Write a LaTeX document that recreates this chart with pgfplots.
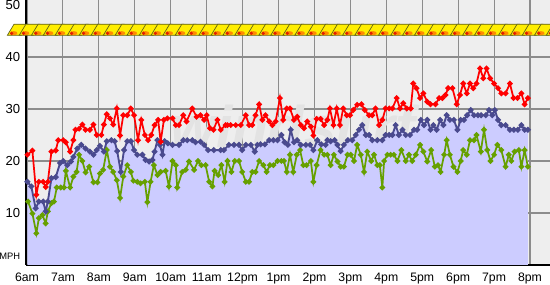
\documentclass[border=0pt]{standalone}
\usepackage{pgfplots}
\pgfplotsset{compat=1.18}
\usepackage{pgfplotstable}
\usepackage{fontspec}
\setmainfont{Liberation Sans}
\definecolor{bggray}{HTML}{EEEEEE}
\definecolor{gridgray}{HTML}{8C8C8C}
\definecolor{lav}{HTML}{CCCCFF}
\definecolor{blueline}{HTML}{4A4A8E}
\definecolor{redline}{HTML}{FF0000}
\definecolor{greenline}{HTML}{66A000}
\definecolor{ropeyellow}{HTML}{FFEE00}
\definecolor{ropeedge}{HTML}{5E5E18}
\definecolor{ropeorange}{HTML}{FF8A00}
\definecolor{ropered}{HTML}{E02000}
\pgfdeclareplotmark{rope}{%
  \pgfsetlinewidth{0.5pt}%
  \pgfsetstrokecolor{ropeedge}%
  \pgfsetfillcolor{ropeyellow}%
  \pgfpathmoveto{\pgfpoint{-8.0pt}{-4.0pt}}%
  \pgfpathlineto{\pgfpoint{2.5pt}{-4.0pt}}%
  \pgfpathlineto{\pgfpoint{7.5pt}{4.3pt}}%
  \pgfpathlineto{\pgfpoint{-3.0pt}{4.3pt}}%
  \pgfpathclose
  \pgfusepath{fill,stroke}%
  \pgfsetfillcolor{ropeorange}%
  \pgfpathellipse{\pgfpoint{-3.2pt}{-2.4pt}}{\pgfpoint{2.8pt}{0pt}}{\pgfpoint{0pt}{1.5pt}}%
  \pgfusepath{fill}%
  \pgfsetfillcolor{ropered}%
  \pgfpathcircle{\pgfpoint{-4.8pt}{-2.5pt}}{1.4pt}%
  \pgfusepath{fill}%
}
\pgfplotsset{layers/mine/.define layer set={axis background,axis grid,main,axis ticks,axis lines,axis tick labels,axis descriptions,axis foreground}{}}

\pgfplotstableread{
x y
6.01 21.2
6.15 22.0
6.26 13.5
6.33 16.0
6.45 16.0
6.52 15.0
6.58 16.0
6.68 21.8
6.80 22.0
6.87 24.0
7.01 24.0
7.08 23.6
7.20 21.8
7.29 24.0
7.35 26.0
7.45 26.2
7.54 27.0
7.63 26.0
7.75 26.0
7.85 27.0
7.94 25.0
8.07 25.0
8.14 27.0
8.22 29.0
8.31 28.2
8.40 27.0
8.50 30.1
8.59 24.9
8.68 28.8
8.79 28.8
8.89 30.1
8.98 28.8
9.09 24.0
9.18 27.9
9.28 25.0
9.37 24.0
9.46 25.0
9.55 26.9
9.65 27.9
9.72 23.7
9.81 27.9
9.91 28.2
10.05 28.2
10.14 26.9
10.23 26.9
10.35 28.8
10.44 27.6
10.60 30.1
10.72 28.5
10.83 28.8
10.93 27.9
11.00 28.8
11.09 26.3
11.19 26.0
11.30 27.9
11.39 26.0
11.53 26.9
11.58 26.9
11.67 26.9
11.81 26.9
11.95 26.9
12.09 28.8
12.18 26.9
12.27 26.9
12.36 28.8
12.46 30.9
12.55 27.9
12.64 28.8
12.74 27.6
12.83 26.9
12.92 27.6
13.04 32.1
13.13 27.9
13.23 30.1
13.32 30.1
13.43 27.9
13.52 28.5
13.62 26.9
13.71 26.3
13.80 27.6
13.90 26.6
13.97 24.9
14.06 28.1
14.17 28.1
14.27 26.9
14.36 27.9
14.43 30.1
14.53 26.9
14.62 30.1
14.71 26.9
14.80 30.1
14.90 28.8
14.99 28.8
15.08 29.8
15.19 30.8
15.31 30.9
15.40 29.8
15.52 28.8
15.61 28.8
15.70 30.1
15.80 26.9
15.89 27.9
15.98 30.1
16.08 30.1
16.17 30.1
16.29 32.1
16.38 30.1
16.47 31.1
16.57 30.1
16.68 30.1
16.75 34.9
16.84 34.0
16.94 32.1
17.03 33.0
17.14 31.4
17.23 30.9
17.37 30.9
17.47 32.1
17.56 32.1
17.65 32.7
17.72 34.0
17.84 34.0
17.96 30.9
18.05 32.7
18.14 34.9
18.24 33.0
18.33 34.9
18.42 34.0
18.51 34.9
18.61 37.8
18.70 35.9
18.79 37.8
18.89 35.9
19.00 34.9
19.11 34.0
19.20 33.0
19.32 33.0
19.44 34.9
19.54 32.1
19.65 32.1
19.76 33.0
19.85 30.9
19.94 32.1
}\gust

\pgfplotstableread{
x y
6.01 16.0
6.12 15.1
6.24 10.9
6.33 12.2
6.45 12.2
6.52 10.3
6.58 12.2
6.68 16.7
6.80 16.9
6.92 19.6
7.01 20.0
7.12 19.2
7.22 19.9
7.29 20.8
7.40 22.4
7.51 23.1
7.63 22.4
7.75 21.8
7.85 21.2
7.94 22.1
8.03 22.9
8.14 21.8
8.22 23.8
8.35 24.0
8.44 23.8
8.51 21.9
8.61 17.9
8.70 22.1
8.79 23.8
8.89 23.8
8.98 22.1
9.07 21.2
9.21 21.2
9.30 20.2
9.40 19.9
9.49 20.2
9.55 21.8
9.63 24.0
9.70 23.1
9.77 21.2
9.83 23.8
9.92 23.4
10.05 23.1
10.23 23.1
10.35 24.0
10.46 24.0
10.60 24.0
10.69 23.6
10.83 23.7
10.93 23.1
11.04 22.1
11.20 22.1
11.39 22.1
11.48 22.1
11.62 23.1
11.76 23.1
11.90 23.1
11.99 22.1
12.09 23.1
12.23 23.1
12.34 21.8
12.41 23.1
12.50 23.2
12.62 23.2
12.74 24.0
12.86 24.0
12.97 24.0
13.08 25.0
13.17 23.6
13.26 23.1
13.34 26.0
13.43 23.6
13.52 24.0
13.62 23.1
13.76 23.1
13.88 23.1
13.97 22.1
14.08 24.0
14.19 23.2
14.31 23.1
14.36 24.0
14.45 23.8
14.56 24.0
14.64 23.1
14.73 21.9
14.82 23.1
14.93 24.0
15.05 24.0
15.15 25.0
15.24 26.0
15.33 26.9
15.43 25.0
15.52 25.0
15.61 24.0
15.75 24.0
15.89 24.0
15.98 25.0
16.08 25.0
16.17 25.0
16.26 26.9
16.35 25.0
16.45 26.0
16.54 25.0
16.66 25.0
16.77 26.0
16.86 26.0
16.96 27.9
17.05 26.9
17.14 27.9
17.23 26.0
17.31 26.9
17.40 26.0
17.50 27.9
17.59 26.9
17.68 28.8
17.77 27.9
17.88 27.9
17.98 26.0
18.07 27.9
18.16 27.9
18.25 28.8
18.35 29.8
18.44 28.8
18.55 28.8
18.64 28.8
18.77 28.8
18.86 29.8
18.95 28.8
19.02 29.8
19.11 27.9
19.20 26.9
19.32 26.9
19.44 26.0
19.55 26.0
19.66 26.0
19.76 26.9
19.85 26.0
19.94 26.0
}\avg

\pgfplotstableread{
x y
6.03 12.2
6.15 9.9
6.26 6.1
6.33 9.0
6.43 9.6
6.52 8.0
6.58 10.3
6.68 11.9
6.75 12.2
6.83 14.9
6.94 14.9
7.03 14.9
7.08 18.1
7.20 14.9
7.29 17.0
7.38 17.9
7.45 21.2
7.54 20.0
7.63 17.8
7.73 18.9
7.85 15.9
7.96 15.9
8.03 17.6
8.12 18.3
8.22 22.1
8.31 18.9
8.40 17.9
8.50 16.3
8.59 12.9
8.68 17.0
8.79 19.2
8.89 17.9
8.96 16.2
9.07 16.0
9.16 15.7
9.28 16.0
9.35 12.1
9.44 16.0
9.53 19.2
9.63 17.3
9.72 17.9
9.86 18.1
9.95 15.1
10.05 20.0
10.14 19.2
10.18 14.9
10.32 17.9
10.42 18.3
10.51 19.9
10.65 18.3
10.76 20.0
10.85 19.2
10.97 19.2
11.07 16.0
11.16 15.1
11.22 18.1
11.32 17.3
11.41 19.2
11.50 16.0
11.58 20.0
11.69 17.9
11.78 20.0
11.90 20.0
11.99 17.9
12.09 16.0
12.18 16.0
12.27 17.9
12.36 17.9
12.46 20.0
12.58 19.2
12.67 17.9
12.76 19.2
12.86 19.2
12.97 20.0
13.08 20.0
13.15 20.0
13.23 17.9
13.32 21.2
13.41 17.9
13.51 21.2
13.60 22.1
13.69 19.2
13.78 19.2
13.90 20.0
13.97 16.0
14.06 19.2
14.17 22.1
14.27 21.2
14.36 21.2
14.45 19.2
14.54 21.2
14.64 19.9
14.73 18.9
14.82 18.9
14.92 21.2
15.01 21.2
15.10 20.0
15.19 23.1
15.29 21.2
15.38 17.9
15.47 21.8
15.58 20.0
15.66 21.2
15.75 19.2
15.82 19.2
15.89 14.9
15.94 20.0
16.03 21.2
16.12 21.2
16.21 21.2
16.31 20.0
16.42 22.1
16.54 20.0
16.63 21.2
16.72 20.0
16.82 21.2
16.94 23.1
17.03 21.8
17.14 19.9
17.25 22.1
17.35 18.9
17.44 19.2
17.51 17.9
17.61 21.2
17.68 24.0
17.77 21.2
17.87 18.9
17.98 17.9
18.07 20.0
18.14 22.1
18.24 21.2
18.33 24.0
18.44 24.0
18.51 25.0
18.63 21.8
18.72 26.0
18.81 22.1
18.90 20.0
19.00 21.2
19.09 23.1
19.20 22.1
19.32 18.9
19.41 21.2
19.48 20.0
19.57 21.8
19.69 22.1
19.76 18.9
19.85 22.1
19.94 18.9
}\lull

\begin{document}
\begin{tikzpicture}
\begin{axis}[
  set layers=mine,
  scale only axis,
  width=393pt, height=198.75pt,
  at={(0,0)}, anchor=south west,
  xmin=5.972, xmax=20.556,
  ymin=0, ymax=50.96,
  clip=false,
  axis lines*=left,
  axis line style={black, line width=1.6pt, -},
  axis background/.style={fill=bggray},
  xtick={6,7,...,20},
  xticklabels={6am,7am,8am,9am,10am,11am,12pm,1pm,2pm,3pm,4pm,5pm,6pm,7pm,8pm},
  ytick={10,20,30,40},
  extra y ticks={50},
  extra y tick style={grid=none},
  major tick length=0pt,
  grid=major,
  grid style={gridgray, line width=0.8pt},
  tick label style={font=\fontsize{9.2}{10}\selectfont, text=black},
  yticklabel style={inner sep=0pt, anchor=east, xshift=-4.2pt, font=\fontsize{9.8}{11}\selectfont},
  xticklabel style={inner sep=0pt, anchor=north, yshift=-5.6pt},
  /pgf/number format/assume math mode=true,
]
\node[text=black!11, font=\bfseries\itshape\fontsize{44}{44}\selectfont, anchor=base] at (axis cs:13.4,22.5) {windsurf};
\addplot[fill=lav, draw=none] table[x=x,y=y] {\avg} \closedcycle;
\addplot[only marks, mark=rope] coordinates {
(5.75,45.2) (6.08,45.2) (6.42,45.2) (6.75,45.2) (7.08,45.2) (7.42,45.2) (7.75,45.2)
(8.08,45.2) (8.42,45.2) (8.75,45.2) (9.08,45.2) (9.42,45.2) (9.75,45.2) (10.08,45.2)
(10.42,45.2) (10.75,45.2) (11.08,45.2) (11.42,45.2) (11.75,45.2) (12.08,45.2) (12.42,45.2)
(12.75,45.2) (13.08,45.2) (13.42,45.2) (13.75,45.2) (14.08,45.2) (14.42,45.2) (14.75,45.2)
(15.08,45.2) (15.42,45.2) (15.75,45.2) (16.08,45.2) (16.42,45.2) (16.75,45.2) (17.08,45.2)
(17.42,45.2) (17.75,45.2) (18.08,45.2) (18.42,45.2) (18.75,45.2) (19.08,45.2) (19.42,45.2)
(19.75,45.2) (20.08,45.2) (20.42,45.2) (20.75,45.2)};
\addplot[greenline, line width=1.3pt, mark=*, mark size=1.4pt, mark options={solid}] table[x=x,y=y] {\lull};
\addplot[blueline, line width=1.4pt, mark=*, mark size=1.4pt, mark options={solid}] table[x=x,y=y] {\avg};
\addplot[redline, line width=1.3pt, mark=*, mark size=1.4pt, mark options={solid}] table[x=x,y=y] {\gust};
\node[anchor=east, inner sep=0pt, font=\fontsize{7}{8}\selectfont] at (axis cs:5.972,1.6) [xshift=-4.2pt] {MPH};
\end{axis}
\pgfresetboundingbox
\useasboundingbox (-19.5pt,-15pt) rectangle (393pt,198.75pt);
\end{tikzpicture}
\end{document}
